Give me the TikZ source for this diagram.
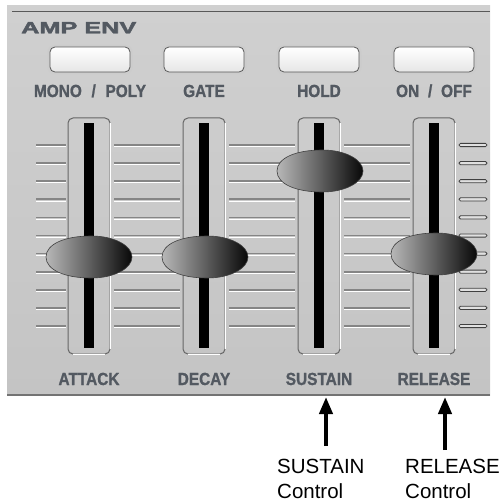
\documentclass[tikz,border=0pt]{standalone}
\usepackage{graphicx}
\usepackage{fontspec}
\setmainfont{Liberation Sans}
\newfontfamily\panelfont{Liberation Sans Bold}[FakeBold=1.2]
\newfontfamily\titlefont{Liberation Sans Bold}[FakeBold=2.2]
\usetikzlibrary{arrows.meta}
\definecolor{panelhi}{HTML}{D0D0D0}
\definecolor{panello}{HTML}{C4C4C4}
\definecolor{labgray}{HTML}{535961}
\tikzset{
  panellabel/.style={text=labgray, font=\fontsize{17.5}{20}\panelfont, inner sep=0pt, anchor=base},
  titlelabel/.style={text=labgray, font=\fontsize{16.3}{18}\titlefont, inner sep=0pt, anchor=base west},
  notelabel/.style={text=black, font=\fontsize{20.5}{25}\selectfont, inner sep=0pt, anchor=base west, align=left},
  tickdark/.style={draw=black!48, line width=1.7pt},
  ticklight/.style={draw=white, line width=1pt},
  tickend/.style={draw=black!75, fill=black!12, line width=0.8pt, rounded corners=1.5pt},
  framedark/.style={draw=black!60, line width=1pt, rounded corners=5pt},
  framelight/.style={draw=white, line width=1pt},
  trackbar/.style={fill=black},
  knobshade/.style={draw=black!75, line width=0.6pt, left color=black!28, middle color=black!58, right color=black!97},
  buttonhalo/.style={fill=black!20, rounded corners=7pt},
  buttonbody/.style={draw=black!65, line width=0.8pt, rounded corners=5pt, top color=white, bottom color=black!10},
  bigarrow/.style={draw=black, line width=4pt, -{Triangle[width=13pt,length=17pt]}},
}
\newcommand{\sliderknob}[3]{% name, cx, cy
  \path[knobshade] (#2-43,#3) .. controls (#2-43,#3-13) and (#2-24,#3-21) .. (#2+2,#3-21)
     .. controls (#2+26,#3-21) and (#2+43,#3-11) .. (#2+43,#3)
     .. controls (#2+43,#3+11) and (#2+26,#3+21) .. (#2+2,#3+21)
     .. controls (#2-24,#3+21) and (#2-43,#3+13) .. cycle;
  \coordinate (#1) at (#2,#3);
}
\begin{document}
\begin{tikzpicture}[x=1pt,y=-1pt]
\useasboundingbox (0,0) rectangle (504,503);
% panel
\fill[top color=panelhi, bottom color=panello] (7,6) rectangle (490,395);
\draw[black!65, line width=1.3pt] (12,11.5) -- (490,11.5);
\draw[black!55, line width=1.2pt] (7,395) -- (490,395);
\node[titlelabel] (title) at (21,33.3) {\scalebox{1.55}[1]{AMP ENV}};

% ticks
\foreach \i in {0,...,10}{
  \pgfmathsetmacro{\ty}{145+18.1*\i}
  \foreach \xa/\xb in {36/66,114/180,229/295,344/410}{
    \draw[tickdark] (\xa,\ty) -- (\xb,\ty);
    \draw[ticklight] (\xa,\ty+1.7) -- (\xb,\ty+1.7);
  }
  \draw[tickend] (459,\ty-1.6) rectangle (487,\ty+1.6);
}

% slider frames and tracks
\foreach \cx/\nm in {89/att,204/dec,319/sus,434/rel}{
  \draw[framedark] (\cx-21,118) rectangle (\cx+21,354);
  \draw[framelight] (\cx+21,123) -- (\cx+21,349);
  \draw[framelight] (\cx-16,354) -- (\cx+16,354);
  \fill[trackbar] (\cx-5,123) rectangle (\cx+5,348);
}

% knobs
\sliderknob{knobatt}{89}{257}
\sliderknob{knobdec}{205}{257}
\sliderknob{knobsus}{320}{171}
\sliderknob{knobrel}{434}{254}

% buttons
\foreach \cx/\nm in {90/bmono,204/bgate,319/bhold,434/bonoff}{
  \fill[buttonhalo] (\cx-42.5,45) rectangle (\cx+42.5,74.5);
  \draw[buttonbody] (\cx-40,47) rectangle (\cx+40,72);
}

% top labels
\node[panellabel] (lmono) at (90,97) {\scalebox{0.88}[1]{MONO\hspace{11pt}/\hspace{11pt}POLY}};
\node[panellabel] (lgate) at (204,97) {\scalebox{0.88}[1]{GATE}};
\node[panellabel] (lhold) at (319,97) {\scalebox{0.88}[1]{HOLD}};
\node[panellabel] (lonoff) at (434,97) {\scalebox{0.88}[1]{ON\hspace{10pt}/\hspace{10pt}OFF}};

% bottom labels
\node[panellabel] (latt) at (89,385) {\scalebox{0.88}[1]{ATTACK}};
\node[panellabel] (ldec) at (204,385) {\scalebox{0.88}[1]{DECAY}};
\node[panellabel] (lsus) at (319,385) {\scalebox{0.88}[1]{SUSTAIN}};
\node[panellabel] (lrel) at (434,385) {\scalebox{0.88}[1]{RELEASE}};

% annotations
\node[notelabel] (nsus) at (277,498) {SUSTAIN\\Control};
\node[notelabel] (nrel) at (405,498) {RELEASE\\Control};
\coordinate (sa0) at (326,446);
\coordinate (sa1) at (326,397);
\coordinate (ra0) at (445,450);
\coordinate (ra1) at (445,397);
\draw[bigarrow] (sa0) -- (sa1);
\draw[bigarrow] (ra0) -- (ra1);
\end{tikzpicture}
\end{document}
